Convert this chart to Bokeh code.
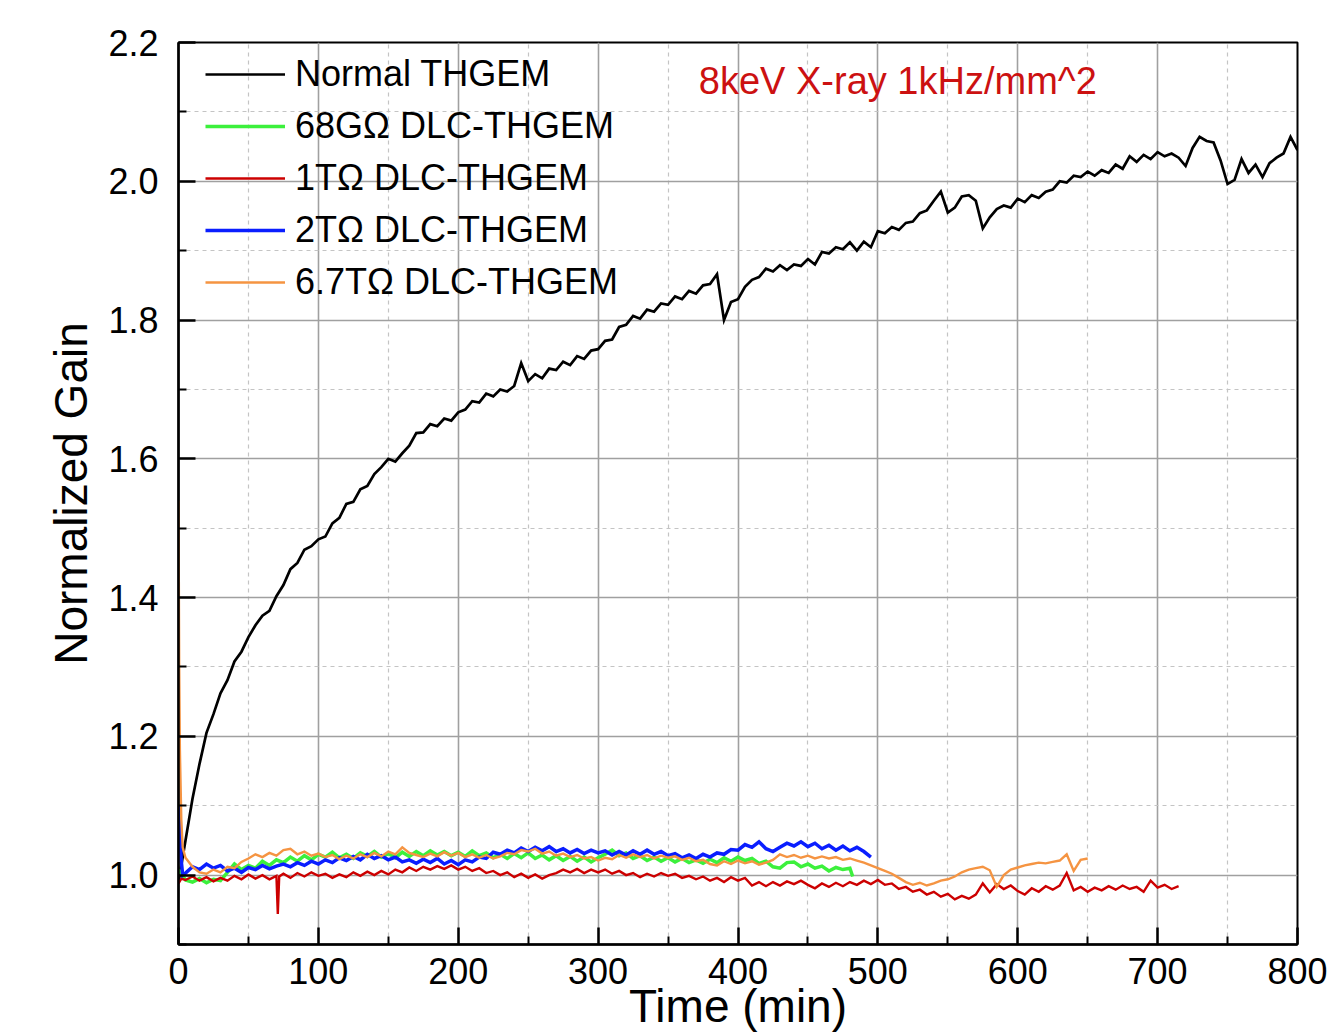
from bokeh.plotting import figure
from bokeh.models import Range1d, FixedTicker, Legend, LegendItem, Label, PrintfTickFormatter
from bokeh.embed import file_html
from bokeh.resources import INLINE

FONT = "Liberation Sans"

# ---------------- data ----------------
t_normal = list(range(0, 805, 5))
g_normal = [
    0.99, 1.05, 1.11, 1.16, 1.205, 1.232, 1.262, 1.281, 1.308, 1.322,
    1.343, 1.360, 1.374, 1.381, 1.402, 1.418, 1.441, 1.450, 1.469, 1.474,
    1.484, 1.488, 1.507, 1.515, 1.535, 1.538, 1.556, 1.561, 1.578, 1.588,
    1.600, 1.596, 1.608, 1.619, 1.637, 1.638, 1.650, 1.647, 1.658, 1.655,
    1.667, 1.671, 1.683, 1.681, 1.694, 1.690, 1.700, 1.697, 1.705, 1.738,
    1.712, 1.722, 1.716, 1.730, 1.728, 1.740, 1.735, 1.748, 1.744, 1.756,
    1.758, 1.770, 1.772, 1.790, 1.793, 1.806, 1.802, 1.815, 1.812, 1.824,
    1.822, 1.834, 1.830, 1.842, 1.838, 1.850, 1.852, 1.866, 1.800, 1.826,
    1.830, 1.848, 1.858, 1.862, 1.874, 1.870, 1.879, 1.872, 1.880, 1.878,
    1.888, 1.880, 1.898, 1.896, 1.905, 1.902, 1.912, 1.900, 1.913, 1.905,
    1.928, 1.925, 1.934, 1.930, 1.940, 1.942, 1.954, 1.958, 1.972, 1.985,
    1.955, 1.962, 1.978, 1.980, 1.972, 1.932, 1.948, 1.960, 1.965, 1.962,
    1.975, 1.970, 1.980, 1.976, 1.985, 1.988, 2.000, 1.998, 2.008, 2.006,
    2.014, 2.008, 2.016, 2.012, 2.024, 2.018, 2.036, 2.028, 2.038, 2.032,
    2.042, 2.036, 2.040, 2.034, 2.022, 2.048, 2.064, 2.058, 2.056, 2.030,
    1.996, 2.002, 2.032, 2.012, 2.024, 2.006, 2.026, 2.034, 2.040, 2.064,
    2.045,
]

t_68g = list(range(0, 485, 5)) + [482]
g_68g = [
    1.008, 0.993, 0.990, 0.995, 0.989, 0.994, 0.992, 1.004, 1.016, 1.008,
    1.014, 1.010, 1.020, 1.014, 1.022, 1.018, 1.026, 1.020, 1.028, 1.022,
    1.030, 1.026, 1.033, 1.025, 1.030, 1.024, 1.032, 1.027, 1.034, 1.026,
    1.031, 1.025, 1.033, 1.027, 1.034, 1.028, 1.035, 1.029, 1.034, 1.028,
    1.033, 1.027, 1.035, 1.028, 1.032, 1.025, 1.030, 1.024, 1.031, 1.025,
    1.032, 1.024, 1.029, 1.022, 1.028, 1.021, 1.027, 1.020, 1.026, 1.019,
    1.025, 1.030, 1.036, 1.028, 1.032, 1.024, 1.028, 1.021, 1.026, 1.020,
    1.025, 1.019, 1.024, 1.018, 1.022, 1.017, 1.023, 1.018, 1.025, 1.020,
    1.026, 1.021, 1.024, 1.017, 1.020, 1.012, 1.010, 1.018, 1.019, 1.012,
    1.016, 1.010, 1.013, 1.006, 1.011, 1.008, 1.010,
    0.998,
]

t_1t = [0, 2] + list(range(5, 75, 5)) + [71, 72] + list(range(75, 720, 5))
g_1t = [
    0.988, 0.995,
    0.993, 0.998, 0.992, 0.997, 0.991, 0.996, 0.992, 0.999, 0.994, 1.001, 0.995, 1.000, 0.994, 0.999,
    0.944, 0.998,
    1.002, 0.996, 1.003, 0.998, 1.004, 0.999, 1.002, 0.996, 1.001, 0.997,
    1.004, 0.999, 1.005, 1.000, 1.006, 1.001, 1.008, 1.004, 1.011, 1.006,
    1.012, 1.008, 1.013, 1.009, 1.014, 1.008, 1.012, 1.006, 1.010, 1.003,
    1.006, 1.000, 1.004, 0.997, 1.002, 0.996, 1.001, 0.995, 1.000, 1.003,
    1.008, 1.004, 1.009, 1.003, 1.008, 1.004, 1.008, 1.002, 1.006, 1.000,
    1.003, 0.997, 1.002, 0.998, 1.003, 0.999, 1.002, 0.996, 0.999, 0.994,
    0.998, 0.992, 0.996, 0.990, 0.997, 0.992, 0.996, 0.985, 0.990, 0.984,
    0.990, 0.985, 0.991, 0.987, 0.992, 0.986, 0.981, 0.988, 0.983, 0.989,
    0.984, 0.990, 0.986, 0.992, 0.987, 0.993, 0.986, 0.988, 0.980, 0.983,
    0.976, 0.979, 0.972, 0.976, 0.969, 0.973, 0.965, 0.970, 0.966, 0.972,
    0.988, 0.975, 0.987, 0.980, 0.985, 0.977, 0.972, 0.981, 0.976, 0.984,
    0.979, 0.985, 1.003, 0.978, 0.983, 0.976, 0.982, 0.978, 0.984, 0.979,
    0.985, 0.980, 0.983, 0.976, 0.992, 0.982, 0.986, 0.980, 0.984,
]

t_2t = [0, 1, 2, 3] + list(range(5, 500, 5))
g_2t = [
    1.10, 1.06, 1.02, 1.00,
    1.003, 1.012, 1.008, 1.016, 1.010, 1.014, 1.006, 1.010, 1.004, 1.011,
    1.008, 1.014, 1.009, 1.013, 1.016, 1.012, 1.018, 1.014, 1.020, 1.016,
    1.022, 1.018, 1.025, 1.021, 1.027, 1.022, 1.030, 1.024, 1.028, 1.022,
    1.026, 1.019, 1.022, 1.017, 1.023, 1.018, 1.024, 1.016, 1.021, 1.015,
    1.022, 1.019, 1.026, 1.024, 1.033, 1.030, 1.036, 1.032, 1.039, 1.034,
    1.040, 1.035, 1.041, 1.034, 1.038, 1.032, 1.037, 1.031, 1.036, 1.032,
    1.035, 1.029, 1.034, 1.029, 1.035, 1.030, 1.036, 1.030, 1.034, 1.028,
    1.031, 1.025, 1.029, 1.024, 1.030, 1.026, 1.032, 1.030, 1.037, 1.036,
    1.044, 1.040, 1.048, 1.038, 1.034, 1.040, 1.046, 1.042, 1.048, 1.041,
    1.046, 1.038, 1.043, 1.036, 1.042, 1.035, 1.040, 1.034, 1.026,
]

t_67t = [0, 0.5, 1, 2, 3] + list(range(5, 655, 5))
g_67t = [
    1.54, 1.30, 1.18, 1.08, 1.04,
    1.025, 1.012, 1.004, 1.002, 1.008, 1.004, 1.012, 1.010, 1.019, 1.024,
    1.030, 1.026, 1.032, 1.028, 1.036, 1.038, 1.030, 1.034, 1.028, 1.031,
    1.026, 1.029, 1.023, 1.028, 1.024, 1.030, 1.026, 1.032, 1.027, 1.034,
    1.030, 1.040, 1.032, 1.029, 1.026, 1.031, 1.027, 1.033, 1.028, 1.032,
    1.026, 1.030, 1.025, 1.029, 1.024, 1.027, 1.032, 1.030, 1.036, 1.034,
    1.038, 1.031, 1.034, 1.028, 1.031, 1.026, 1.029, 1.024, 1.026, 1.021,
    1.025, 1.023, 1.029, 1.025, 1.030, 1.026, 1.029, 1.024, 1.028, 1.025,
    1.027, 1.022, 1.025, 1.020, 1.022, 1.016, 1.014, 1.020, 1.016, 1.021,
    1.017, 1.020, 1.015, 1.018, 1.022, 1.030, 1.026, 1.029, 1.025, 1.028,
    1.024, 1.027, 1.024, 1.026, 1.022, 1.024, 1.021, 1.018, 1.014, 1.010,
    1.006, 1.002, 0.996, 0.990, 0.986, 0.989, 0.985, 0.988, 0.992, 0.994,
    0.998, 1.004, 1.008, 1.010, 1.012, 1.007, 0.983, 1.000, 1.008, 1.011,
    1.014, 1.016, 1.018, 1.017, 1.019, 1.021, 1.030, 1.006, 1.022, 1.024,
]

x_ticks = [0, 100, 200, 300, 400, 500, 600, 700, 800]
x_minor = [50, 150, 250, 350, 450, 550, 650, 750]
y_ticks = [1.0, 1.2, 1.4, 1.6, 1.8, 2.0, 2.2]
y_minor = [0.9, 1.1, 1.3, 1.5, 1.7, 1.9, 2.1]

labels = ["Normal THGEM", "68G\u03a9 DLC-THGEM", "1T\u03a9 DLC-THGEM",
          "2T\u03a9 DLC-THGEM", "6.7T\u03a9 DLC-THGEM"]
colors = ["#000000", "#3cf03c", "#cc0000", "#0a1eff", "#f59442"]
widths = [2.7, 3.5, 2.4, 3.5, 2.4]
annotation = "8keV X-ray 1kHz/mm^2"

# ---------------- figure ----------------
p = figure(width=1334, height=1035, output_backend="svg", toolbar_location=None,
           x_range=Range1d(0, 800), y_range=Range1d(0.9, 2.2),
           min_border_left=178, min_border_right=37, min_border_top=42,
           min_border_bottom=91, background_fill_color="white",
           border_fill_color="white")

p.outline_line_color = "black"
p.outline_line_width = 2

p.xaxis.ticker = FixedTicker(ticks=x_ticks, minor_ticks=x_minor)
p.yaxis.ticker = FixedTicker(ticks=y_ticks, minor_ticks=y_minor)
p.yaxis.formatter = PrintfTickFormatter(format="%.1f")

for ax in (p.xaxis, p.yaxis):
    ax.axis_line_color = "black"
    ax.axis_line_width = 2.5
    ax.major_tick_line_color = "black"
    ax.major_tick_line_width = 2.5
    ax.minor_tick_line_color = "black"
    ax.minor_tick_line_width = 2
    ax.major_tick_in = 17
    ax.major_tick_out = 0
    ax.minor_tick_in = 8
    ax.minor_tick_out = 0
    ax.major_label_text_font = FONT
    ax.major_label_text_font_size = "36px"
    ax.major_label_text_color = "black"
    ax.axis_label_text_font = FONT
    ax.axis_label_text_font_size = "46px"
    ax.axis_label_text_font_style = "normal"
    ax.axis_label_text_color = "black"

p.xaxis.axis_label = "Time (min)"
p.yaxis.axis_label = "Normalized Gain"
p.xaxis.major_label_standoff = 13
p.xaxis.axis_label_standoff = -7
p.yaxis.major_label_standoff = 20
p.yaxis.axis_label_standoff = 8

for g in (p.xgrid, p.ygrid):
    g.grid_line_color = "#a0a0a0"
    g.grid_line_width = 1.6
    g.minor_grid_line_color = "#c4c4c4"
    g.minor_grid_line_width = 1.2
    g.minor_grid_line_dash = "4 4"

series = [(t_normal, g_normal), (t_68g, g_68g), (t_1t, g_1t), (t_2t, g_2t), (t_67t, g_67t)]
renderers = []
for (tx, gy), c, w in zip(series, colors, widths):
    r = p.line(tx, gy, line_color=c, line_width=w, line_join="miter")
    renderers.append(r)

legend = Legend(items=[LegendItem(label=l, renderers=[r]) for l, r in zip(labels, renderers)],
                location=(27, 640), margin=0, padding=0,
                label_text_font=FONT, label_text_font_size="36px",
                label_text_color="black",
                glyph_width=80, glyph_height=44, label_height=44,
                label_standoff=10, spacing=8,
                border_line_alpha=0, background_fill_alpha=0)
p.add_layout(legend)

p.add_layout(Label(x=372, y=2.144, text=annotation, text_font=FONT,
                   text_font_size="38px", text_color="#cc1111",
                   text_baseline="middle", text_align="left"))

open("out.html", "w").write(file_html(p, INLINE))
